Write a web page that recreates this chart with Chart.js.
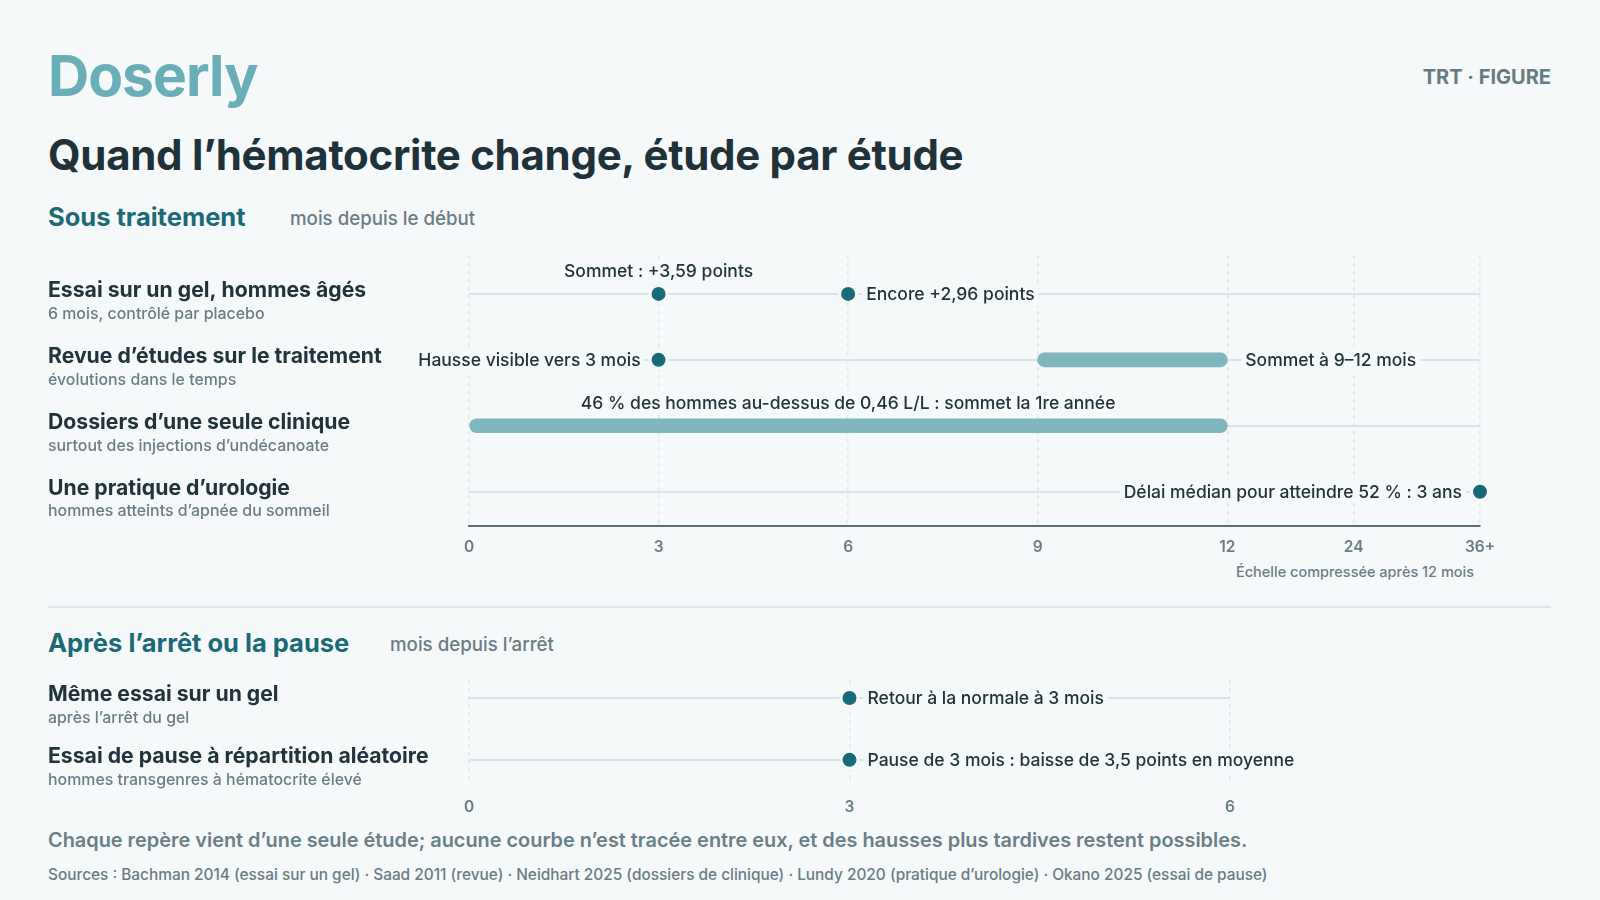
<!DOCTYPE html>
<html lang="fr">
<head>
<meta charset="utf-8">
<title>Doserly – hématocrite</title>
<script src="https://cdn.jsdelivr.net/npm/chart.js@4.4.1/dist/chart.umd.min.js"></script>
<style>
  html, body { margin: 0; padding: 0; }
  body {
    width: 1600px; height: 900px; position: relative; overflow: hidden;
    background: #f5f9fa; font-family: Inter, "Noto Sans", sans-serif; color: #1f3239;
  }
  .t { position: absolute; line-height: 1; white-space: nowrap; }
  .logo { left: 48px; top: 47px; font-size: 57px; font-weight: 700; color: #6aaeb7; letter-spacing: -1px; }
  .tag { right: 49px; top: 67px; font-size: 20px; font-weight: 700; color: #667c84; }
  .title { left: 48px; top: 134px; font-size: 42px; font-weight: 700; color: #1f3239; letter-spacing: -0.3px; }
  .section { left: 48px; font-size: 25.5px; font-weight: 700; color: #1b6a75; }
  .unit { font-size: 18.7px; font-weight: 500; color: #6a7c84; }
  .note { font-size: 14.5px; font-weight: 500; color: #6a7c84; }
  .rule { position: absolute; left: 48px; top: 606px; width: 1503px; height: 2px; background: #dde6ea; }
  .foot { left: 48px; top: 831px; font-size: 19.9px; font-weight: 600; color: #6b7f87; }
  .src { left: 48px; top: 867px; font-size: 15.4px; font-weight: 500; color: #6a7c84; }
  canvas { position: absolute; left: 0; }
</style>
</head>
<body>
<div class="t logo">Doserly</div>
<div class="t tag">TRT · FIGURE</div>
<div class="t title">Quand l’hématocrite change, étude par étude</div>

<div class="t section" style="top:204px">Sous traitement</div>
<div class="t unit" style="left:290px;top:210px">mois depuis le début</div>
<div class="t note" style="right:126px;top:565px">Échelle compressée après 12 mois</div>

<div class="rule"></div>

<div class="t section" style="top:630px">Après l’arrêt ou la pause</div>
<div class="t unit" style="left:390px;top:636px">mois depuis l’arrêt</div>

<div class="t foot">Chaque repère vient d’une seule étude; aucune courbe n’est tracée entre eux, et des hausses plus tardives restent possibles.</div>
<div class="t src">Sources : Bachman 2014 (essai sur un gel) · Saad 2011 (revue) · Neidhart 2025 (dossiers de clinique) · Lundy 2020 (pratique d’urologie) · Okano 2025 (essai de pause)</div>

<div style="position:absolute;left:0;top:230px;width:1600px;height:370px"><canvas id="chartTraitement"></canvas></div>
<div style="position:absolute;left:0;top:650px;width:1600px;height:180px"><canvas id="chartArret"></canvas></div>

<script>
// --- données : sous traitement (mois depuis le début) ---
const rowsTraitement = ['Essai sur un gel, hommes âgés', 'Revue d’études sur le traitement', 'Dossiers d’une seule clinique', 'Une pratique d’urologie'];
const subsTraitement = ['6 mois, contrôlé par placebo', 'évolutions dans le temps', 'surtout des injections d’undécanoate', 'hommes atteints d’apnée du sommeil'];

const pointRowTraitement = [0, 0, 1, 3];
const pointMoisTraitement = [3, 6, 3, 36];
const pointLabelTraitement = ['Sommet : +3,59 points', 'Encore +2,96 points', 'Hausse visible vers 3 mois', 'Délai médian pour atteindre 52 % : 3 ans'];
const pointPosTraitement = ['top', 'right', 'left', 'left'];

const barRowTraitement = [1, 2];
const barDebutTraitement = [9, 0];
const barFinTraitement = [12, 12];
const barLabelTraitement = ['Sommet à 9–12 mois', '46 % des hommes au-dessus de 0,46 L/L : sommet la 1re année'];
const barPosTraitement = ['right', 'top'];

const ticksTraitement = [0, 3, 6, 9, 12, 24, 36];
const tickLabelsTraitement = ['0', '3', '6', '9', '12', '24', '36+'];

// --- données : après l'arrêt (mois depuis l'arrêt) ---
const rowsArret = ['Même essai sur un gel', 'Essai de pause à répartition aléatoire'];
const subsArret = ['après l’arrêt du gel', 'hommes transgenres à hématocrite élevé'];
const pointRowArret = [0, 1];
const pointMoisArret = [3, 3];
const pointLabelArret = ['Retour à la normale à 3 mois', 'Pause de 3 mois : baisse de 3,5 points en moyenne'];
const pointPosArret = ['right', 'right'];
const ticksArret = [0, 3, 6];
const tickLabelsArret = ['0', '3', '6'];

// couleurs
const BG = '#f5f9fa';
const DOT = '#176a76';
const BAR = '#80b7be';
const ROWLINE = '#dae4e8';
const GRID = '#e1e8eb';
const INK = '#21343b';
const MUTED = '#6a7c84';

// échelle compressée après 12 mois : 12 -> 24 -> 36 prennent chacun 2 unités
function compresse(m) {
    return m <= 12 ? m : 12 + (m - 12) / 6;
}

// plugin : étiquettes des repères + libellés des lignes
const etiquettes = {
    id: 'etiquettes',
    afterDatasetsDraw(chart, args, opts) {
        const { ctx } = chart;
        const x = chart.scales.x, y = chart.scales.y;
        ctx.save();
        ctx.textBaseline = 'middle';

        // libellés des lignes (colonne de gauche)
        opts.rows.forEach((r, i) => {
            const py = y.getPixelForValue(i);
            ctx.textAlign = 'left';
            ctx.fillStyle = INK;
            ctx.font = '700 21.2px Inter';
            ctx.fillText(r, 48, py - 3.5);
            ctx.fillStyle = MUTED;
            ctx.font = '500 15.9px Inter';
            ctx.fillText(opts.subs[i], 48, py + 20);
        });

        ctx.font = '500 17.5px Inter';
        opts.items.forEach(it => {
            let py = y.getPixelForValue(it.row);
            let px;
            if (it.pos === 'top') {
                px = (x.getPixelForValue(it.x0) + x.getPixelForValue(it.x1)) / 2;
                py -= 23;
                ctx.textAlign = 'center';
            } else if (it.pos === 'right') {
                px = x.getPixelForValue(it.x1) + 18;
                ctx.textAlign = 'left';
            } else {
                px = x.getPixelForValue(it.x0) - 18;
                ctx.textAlign = 'right';
            }
            const w = ctx.measureText(it.text).width;
            const left = it.pos === 'top' ? px - w / 2 : (it.pos === 'right' ? px : px - w);
            ctx.fillStyle = BG;
            ctx.fillRect(left - 4, py - 11, w + 8, 22);
            ctx.fillStyle = INK;
            ctx.fillText(it.text, px, py + 1);
        });
        ctx.restore();
    }
};

function buildChart(id, cfg) {
    const points = cfg.pointRow.map((r, i) => ({ x: cfg.map(cfg.pointMois[i]), y: r }));
    const bars = cfg.barRow.map((r, i) => ({ x: [cfg.map(cfg.barDebut[i]), cfg.map(cfg.barFin[i])], y: r }));

    const items = [];
    cfg.pointRow.forEach((r, i) => {
        const v = cfg.map(cfg.pointMois[i]);
        items.push({ row: r, x0: v, x1: v, text: cfg.pointLabel[i], pos: cfg.pointPos[i] });
    });
    cfg.barRow.forEach((r, i) => {
        items.push({ row: r, x0: cfg.map(cfg.barDebut[i]), x1: cfg.map(cfg.barFin[i]), text: cfg.barLabel[i], pos: cfg.barPos[i] });
    });

    const datasets = [];
    if (bars.length) {
        datasets.push({
            type: 'bar',
            indexAxis: 'y',
            data: bars,
            backgroundColor: BAR,
            borderRadius: 7,
            borderSkipped: false,
            barThickness: 14,
            grouped: false,
            order: 2
        });
    }
    datasets.push({
        type: 'scatter',
        data: points,
        pointRadius: 8.5,
        pointHoverRadius: 8.5,
        pointBackgroundColor: DOT,
        pointBorderColor: BG,
        pointBorderWidth: 3,
        clip: false,
        order: 1
    });

    return new Chart(document.getElementById(id), {
        type: 'scatter',
        data: { datasets },
        options: {
            responsive: true,
            maintainAspectRatio: false,
            animation: false,
            events: [],
            layout: { padding: cfg.padding },
            plugins: {
                legend: { display: false },
                tooltip: { enabled: false },
                etiquettes: { rows: cfg.rows, subs: cfg.subs, items }
            },
            scales: {
                x: {
                    type: 'linear',
                    min: cfg.map(cfg.ticks[0]),
                    max: cfg.map(cfg.ticks[cfg.ticks.length - 1]),
                    afterBuildTicks: s => { s.ticks = cfg.ticks.map(m => ({ value: cfg.map(m) })); },
                    afterFit: s => { s.height = 30; },
                    grid: { color: GRID, lineWidth: 1.5, drawTicks: false },
                    border: { display: cfg.axisLine, color: '#5d6f77', width: 2, dash: [4, 4] },
                    ticks: {
                        padding: cfg.tickPad,
                        color: MUTED,
                        font: { family: 'Inter', size: 15.5, weight: '600' },
                        autoSkip: false,
                        maxRotation: 0,
                        callback: (v, i) => cfg.tickLabels[i]
                    }
                },
                y: {
                    type: 'linear',
                    reverse: true,
                    min: cfg.yMin,
                    max: cfg.yMax,
                    offset: false,
                    afterBuildTicks: s => { s.ticks = cfg.rows.map((r, i) => ({ value: i })); },
                    grid: { color: ROWLINE, lineWidth: 2, drawTicks: false, offset: false },
                    border: { display: false, dash: [] },
                    ticks: { display: false }
                }
            }
        },
        plugins: [etiquettes]
    });
}

buildChart('chartTraitement', {
    map: compresse,
    rows: rowsTraitement, subs: subsTraitement,
    pointRow: pointRowTraitement, pointMois: pointMoisTraitement, pointLabel: pointLabelTraitement, pointPos: pointPosTraitement,
    barRow: barRowTraitement, barDebut: barDebutTraitement, barFin: barFinTraitement, barLabel: barLabelTraitement, barPos: barPosTraitement,
    ticks: ticksTraitement, tickLabels: tickLabelsTraitement,
    yMin: -0.59, yMax: 3.52,
    padding: { left: 469, right: 120, top: 25, bottom: 44 },
    tickPad: 12,
    axisLine: true
});

buildChart('chartArret', {
    map: m => m,
    rows: rowsArret, subs: subsArret,
    pointRow: pointRowArret, pointMois: pointMoisArret, pointLabel: pointLabelArret, pointPos: pointPosArret,
    barRow: [], barDebut: [], barFin: [], barLabel: [], barPos: [],
    ticks: ticksArret, tickLabels: tickLabelsArret,
    yMin: -0.29, yMax: 1.39,
    padding: { left: 469, right: 370, top: 30, bottom: 16 },
    tickPad: 14,
    axisLine: false
});
</script>
</body>
</html>
